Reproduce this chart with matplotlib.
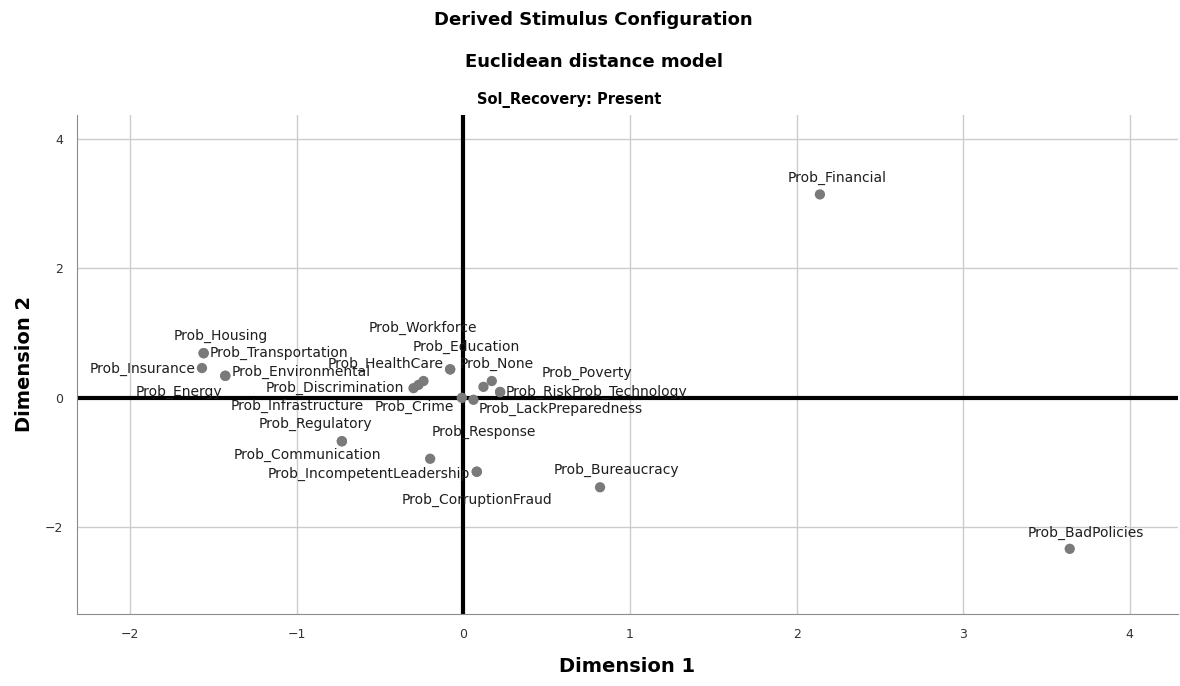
import numpy as np
import matplotlib
matplotlib.use('Agg')
from matplotlib import pyplot as plt

# stimulus coordinates (dimension 1, dimension 2)
names = ['Prob_Financial', 'Prob_BadPolicies', 'Prob_Bureaucracy',
         'Prob_Housing', 'Prob_Transportation', 'Prob_Insurance',
         'Prob_Environmental', 'Prob_Energy', 'Prob_Discrimination',
         'Prob_Infrastructure', 'Prob_Workforce', 'Prob_HealthCare',
         'Prob_Education', 'Prob_Crime', 'Prob_LackPreparedness',
         'Prob_None', 'Prob_Poverty', 'Prob_Risk', 'Prob_Technology',
         'Prob_Regulatory', 'Prob_Communication', 'Prob_Response',
         'Prob_IncompetentLeadership', 'Prob_CorruptionFraud']
dim1 = [2.14, 3.64, 0.82,
        -1.56, -1.56, -1.57,
        -1.43, -1.43, -0.30,
        -0.27, -0.24, -0.08,
        -0.08, -0.01, 0.06,
        0.12, 0.17, 0.22, 0.22,
        -0.73, -0.73, -0.20,
        0.08, 0.08]
dim2 = [3.14, -2.33, -1.38,
        0.69, 0.69, 0.46,
        0.34, 0.34, 0.15,
        0.20, 0.26, 0.44,
        0.44, 0.00, -0.03,
        0.17, 0.26, 0.09, 0.09,
        -0.67, -0.67, -0.94,
        -1.14, -1.14]

# where each label sits relative to its point (pixels) and how it is anchored
lab_pos = {
    'Prob_Financial': (17, 16, 'center'),
    'Prob_BadPolicies': (16, 16, 'center'),
    'Prob_Bureaucracy': (16, 17, 'center'),
    'Prob_Housing': (17, 17, 'center'),
    'Prob_Transportation': (6, 0, 'left'),
    'Prob_Insurance': (-6, -1, 'right'),
    'Prob_Environmental': (6, 4, 'left'),
    'Prob_Energy': (-46, -16, 'center'),
    'Prob_Discrimination': (-9, 0, 'right'),
    'Prob_Infrastructure': (-121, -21, 'center'),
    'Prob_Workforce': (-1, 53, 'center'),
    'Prob_HealthCare': (-7, 5, 'right'),
    'Prob_Education': (16, 22, 'center'),
    'Prob_Crime': (-47, -9, 'center'),
    'Prob_LackPreparedness': (5, -9, 'left'),
    'Prob_None': (13, 23, 'center'),
    'Prob_Poverty': (95, 8, 'center'),
    'Prob_Risk': (6, 0, 'left'),
    'Prob_Technology': (72, 0, 'left'),
    'Prob_Regulatory': (-26, 17, 'center'),
    'Prob_Communication': (-35, -14, 'center'),
    'Prob_Response': (54, 27, 'center'),
    'Prob_IncompetentLeadership': (-7, -2, 'right'),
    'Prob_CorruptionFraud': (0, -28, 'center'),
}

fig = plt.figure(figsize=(11.8, 6.86), dpi=100)
ax = fig.add_axes([0.0653, 0.1055, 0.9330, 0.7273])

ax.set_xlim(-2.32, 4.29)
ax.set_ylim(-3.33, 4.37)
ax.set_xticks([-2, -1, 0, 1, 2, 3, 4])
ax.set_yticks([-2, 0, 2, 4])
ax.grid(True, color='#cccccc', linewidth=1)
ax.set_axisbelow(True)
ax.axhline(0, color='black', linewidth=3, zorder=2)
ax.axvline(0, color='black', linewidth=3, zorder=2)

for s in ['top', 'right']:
    ax.spines[s].set_visible(False)
for s in ['left', 'bottom']:
    ax.spines[s].set_color('#8c8c8c')
ax.tick_params(length=0, labelsize=9, colors='#333333', pad=10)

ax.scatter(dim1, dim2, s=55, color='#7a7a7a', zorder=3, edgecolors='none')

for n, x, y in zip(names, dim1, dim2):
    dx, dy, ha = lab_pos[n]
    ax.annotate(n, (x, y), xytext=(dx, dy), textcoords='offset pixels',
                ha=ha, va='center', fontsize=10, color='#1e1e1e', zorder=4)

fig.text(0.503, 1 - 20 / 686, 'Derived Stimulus Configuration', ha='center',
         va='center', fontsize=13, fontweight='bold')
fig.text(0.503, 1 - 62 / 686, 'Euclidean distance model', ha='center',
         va='center', fontsize=13, fontweight='bold')
fig.text(0.482, 1 - 100 / 686, 'Sol_Recovery: Present', ha='center',
         va='center', fontsize=10.5, fontweight='bold')

ax.set_xlabel('Dimension 1', fontsize=14, fontweight='bold', labelpad=12)
ax.set_ylabel('Dimension 2', fontsize=14, fontweight='bold', labelpad=8)

fig.savefig('out.png', dpi=100)
